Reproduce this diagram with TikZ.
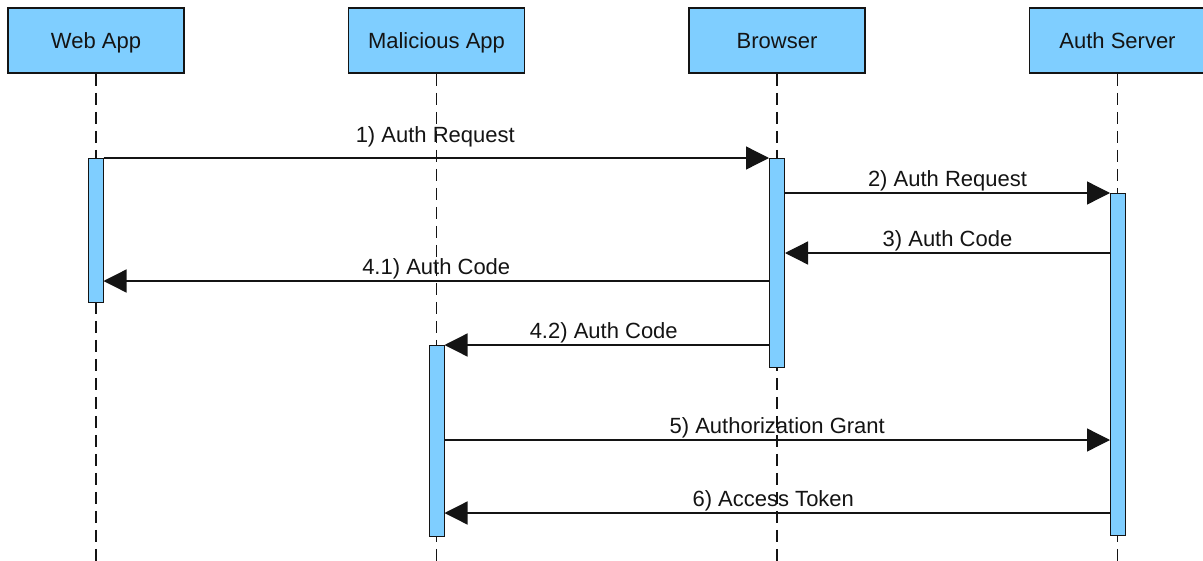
\documentclass[tikz,border=0pt]{standalone}
\usepackage{fontspec}
\setmainfont{Liberation Sans}
\usetikzlibrary{arrows.meta}
\definecolor{actorfill}{RGB}{127,206,255}
\definecolor{inkline}{RGB}{20,20,20}
\tikzset{
  actor/.style={draw=inkline, line width=1.5pt, fill=actorfill, rectangle,
    minimum width=176pt, minimum height=65pt, inner sep=0pt,
    text height=15.75pt, text depth=0pt,
    font=\fontsize{22}{26}\selectfont, text=inkline},
  lifeline/.style={draw=inkline, line width=1.3pt, dash pattern=on 12pt off 7pt},
  actbar/.style={draw=inkline, line width=1pt, fill=actorfill, rectangle,
    minimum width=15pt, inner sep=0pt, anchor=north},
  msg/.style={draw=inkline, line width=1.3pt, -{Triangle[length=23pt,width=23pt]}},
  msglabel/.style={anchor=base, inner sep=0pt, font=\fontsize{22}{26}\selectfont, text=inkline}
}
\begin{document}
\begin{tikzpicture}[x=1pt,y=-1pt]
  \fill[white] (0,0) rectangle (1203,560);
  \useasboundingbox (0,0) rectangle (1203,560);

  % participants
  \node[actor] (web) at (96,40.5) {Web App};
  \node[actor] (mal) at (436.5,40.5) {Malicious App};
  \node[actor] (brw) at (777,40.5) {Browser};
  \node[actor] (srv) at (1117.5,40.5) {Auth Server};

  % lifelines
  \foreach \p in {web,mal,brw,srv}
    \draw[lifeline] (\p.south) -- (\p.south |- 0,562);

  % activation bars
  \node[actbar, minimum height=144pt] (webBar) at (95.5,158) {};
  \node[actbar, minimum height=209pt] (brwBar) at (777,158) {};
  \node[actbar, minimum height=342pt] (srvBar) at (1118,193) {};
  \node[actbar, minimum height=191pt] (malBar) at (436.5,344.5) {};

  % messages
  \draw[msg] (webBar.east |- 0,158) -- (brwBar.west |- 0,158)
    node[msglabel, pos=0.5, xshift=-1pt, yshift=16pt] (m1) {1) Auth Request};
  \draw[msg] (brwBar.east |- 0,193) -- (srvBar.west |- 0,193)
    node[msglabel, pos=0.5, yshift=6.5pt] (m2) {2) Auth Request};
  \draw[msg] (srvBar.west |- 0,253) -- (brwBar.east |- 0,253)
    node[msglabel, pos=0.5, yshift=6.5pt] (m3) {3) Auth Code};
  \draw[msg] (brwBar.west |- 0,281) -- (webBar.east |- 0,281)
    node[msglabel, pos=0.5, yshift=6.5pt] (m41) {4.1) Auth Code};
  \draw[msg] (brwBar.west |- 0,345) -- (malBar.east |- 0,345)
    node[msglabel, pos=0.5, xshift=-3pt, yshift=6.5pt] (m42) {4.2) Auth Code};
  \draw[msg] (malBar.east |- 0,440) -- (srvBar.west |- 0,440)
    node[msglabel, pos=0.5, yshift=6.5pt] (m5) {5) Authorization Grant};
  \draw[msg] (srvBar.west |- 0,513) -- (malBar.east |- 0,513)
    node[msglabel, pos=0.5, xshift=-4pt, yshift=6.5pt] (m6) {6) Access Token};
\end{tikzpicture}
\end{document}
